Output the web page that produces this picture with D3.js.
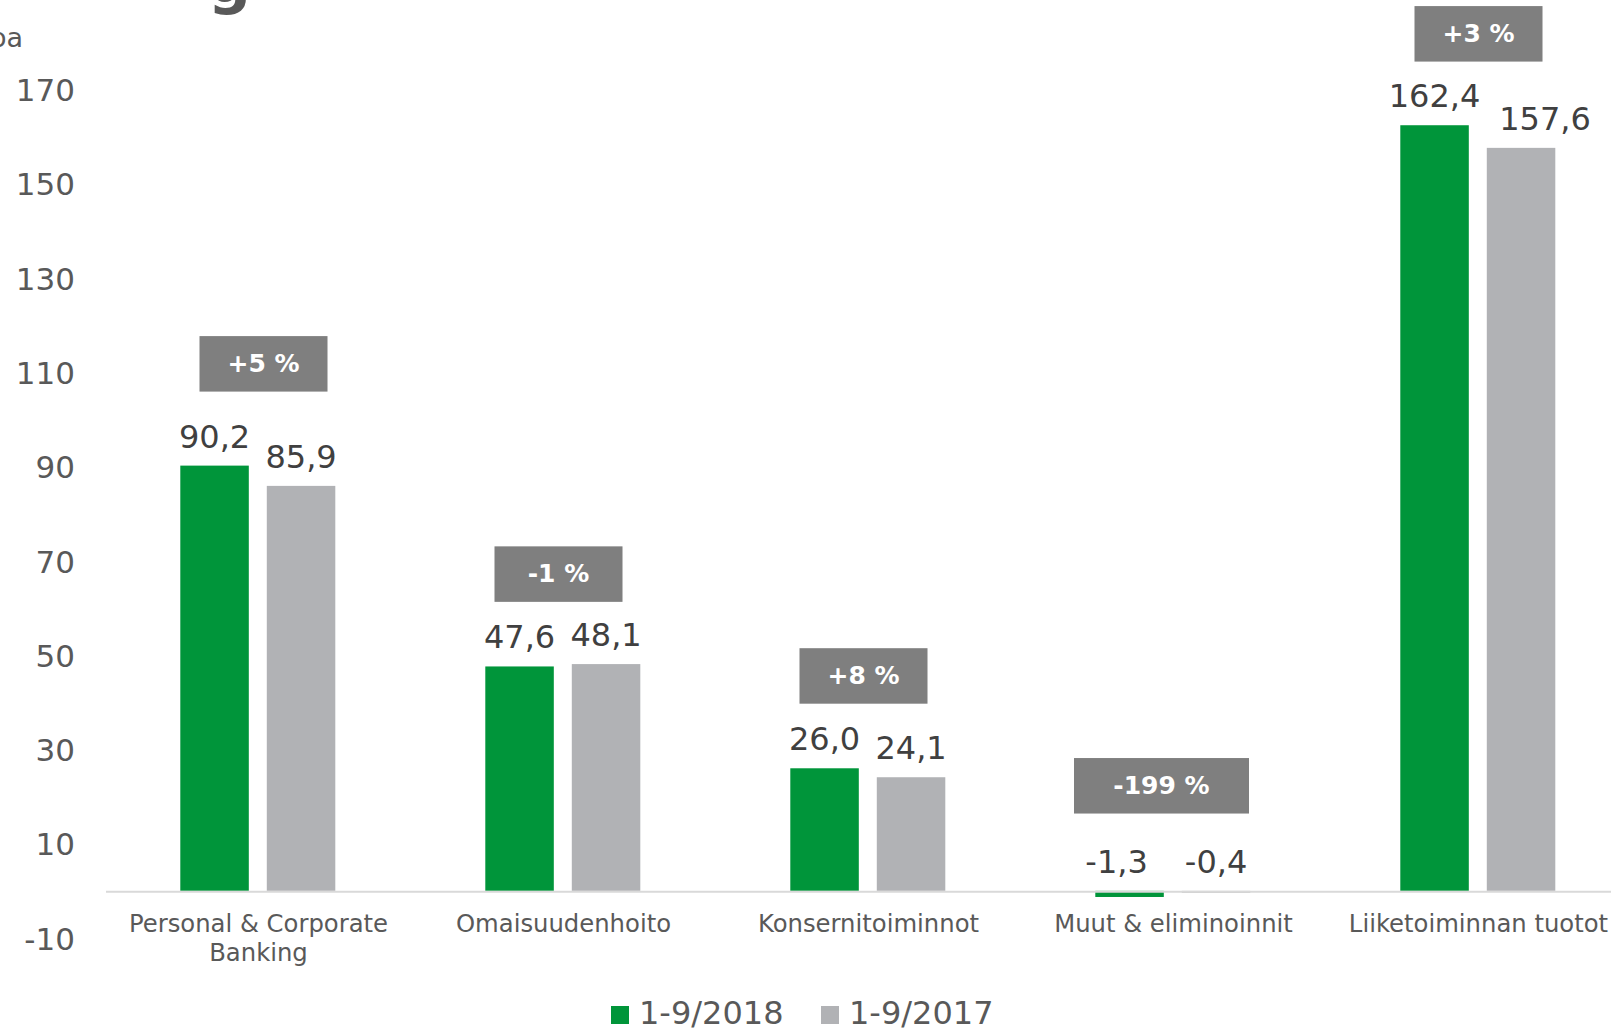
<!DOCTYPE html>
<html><head><meta charset="utf-8">
<script src="https://cdn.jsdelivr.net/npm/d3@7"></script>
<style>html,body{margin:0;padding:0;background:#fff;overflow:hidden}svg{display:block;font-family:Verdana,"DejaVu Sans",sans-serif}</style>
</head><body>
<svg id="c" width="1611" height="1031"></svg>
<script>
const categories = [["Personal & Corporate","Banking"],["Omaisuudenhoito"],["Konsernitoiminnot"],["Muut & eliminoinnit"],["Liiketoiminnan tuotot"]];
const seriesNames = ["1-9/2018","1-9/2017"];
const values2018 = [90.2, 47.6, 26.0, -1.3, 162.4];
const values2017 = [85.9, 48.1, 24.1, -0.4, 157.6];
const changeLabels = ["+5 %","-1 %","+8 %","-199 %","+3 %"];
const changeAnchor = [105.9, 61.3, 39.7, 16.4, 175.9]; // bottom of change box, in data units
const yTicks = [-10,10,30,50,70,90,110,130,150,170];
const colors = ["#00953A","#B1B2B5"];
const fmt = v => v.toFixed(1).replace(".", ",");

const svg = d3.select("#c");
const y = d3.scaleLinear().domain([-10,170]).range([938,89.4]);
const x0 = d3.scaleBand().domain(d3.range(categories.length)).range([106,1631]).padding(0);
const x1 = d3.scaleBand().domain(seriesNames).range([74.3,229.3]).paddingInner(0.208);

// title remnant (cut off at top)
svg.append("text").attr("x",208).attr("y",2).attr("font-size",60).attr("font-weight","bold").attr("fill","#595959").text("g");
svg.append("text").attr("x",23).attr("y",47).attr("text-anchor","end").attr("font-size",27).attr("fill","#595959").text("Milj. euroa");

// y axis
const ya = svg.append("g").attr("transform","translate(75,0)").call(d3.axisLeft(y).tickValues(yTicks).tickSize(0).tickPadding(0).tickFormat(d => String(d)));
ya.select(".domain").remove();
ya.selectAll("text").attr("font-size",31).attr("fill","#595959").attr("font-family",'Verdana,"DejaVu Sans",sans-serif').attr("dy","0.36em");

const data = categories.map((c,i)=>({i, vals:[values2018[i], values2017[i]]}));
const g = svg.selectAll(".grp").data(data).enter().append("g").attr("transform",d=>`translate(${x0(d.i)},0)`);

g.selectAll("rect").data(d=>d.vals.map((v,k)=>({v,k}))).enter().append("rect")
  .attr("x",d=>x1(seriesNames[d.k])).attr("width",x1.bandwidth())
  .attr("y",d=>y(Math.max(d.v,0))).attr("height",d=>Math.max(Math.abs(y(d.v)-y(0)),0))
  .attr("fill",d=>colors[d.k]);

// small label nudges (as in the reference, to avoid overlaps)
const labelDx = [[0,0],[0,0],[0,0],[-13,0],[0,24]];
g.selectAll(".vl").data(d=>d.vals.map((v,k)=>({v,k,i:d.i}))).enter().append("text")
  .attr("x",d=>x1(seriesNames[d.k])+x1.bandwidth()/2+labelDx[d.i][d.k]).attr("y",d=>y(Math.max(d.v,0))-18)
  .attr("text-anchor","middle").attr("font-size",32).attr("fill","#404040").text(d=>fmt(d.v));

// axis line
svg.append("line").attr("x1",106).attr("x2",1611).attr("y1",y(0)+1).attr("y2",y(0)+1).attr("stroke","#D9D9D9").attr("stroke-width",2);

// category labels
g.each(function(d){
  const t = d3.select(this).append("text").attr("text-anchor","middle").attr("font-size",24.3).attr("fill","#595959");
  categories[d.i].forEach((line,j)=>{
    t.append("tspan").attr("x",x0.bandwidth()/2).attr("y",y(0)+41+j*29.5).text(line);
  });
});

// change boxes
const bw = [128,128,128,175,128];
const bdx = [5,-5,-5,-12,0];
g.each(function(d){
  const cx = x0.bandwidth()/2 + bdx[d.i];
  const by = y(changeAnchor[d.i]);
  const s = d3.select(this);
  s.append("rect").attr("x",cx-bw[d.i]/2).attr("width",bw[d.i]).attr("y",by-55.5).attr("height",55.5).attr("fill","#7F7F7F");
  s.append("text").attr("x",cx).attr("y",by-55.5/2+8).attr("text-anchor","middle").attr("font-size",25).attr("font-weight","bold").attr("fill","#fff").text(changeLabels[d.i]);
});

// legend
const lg = svg.append("g");
const lx = [611, 821];
seriesNames.forEach((n,k)=>{
  lg.append("rect").attr("x",lx[k]).attr("y",1006).attr("width",18).attr("height",18).attr("fill",colors[k]);
  lg.append("text").attr("x",lx[k]+28).attr("y",1023.5).attr("font-size",32).attr("fill","#595959").text(n);
});
</script>
</body></html>
